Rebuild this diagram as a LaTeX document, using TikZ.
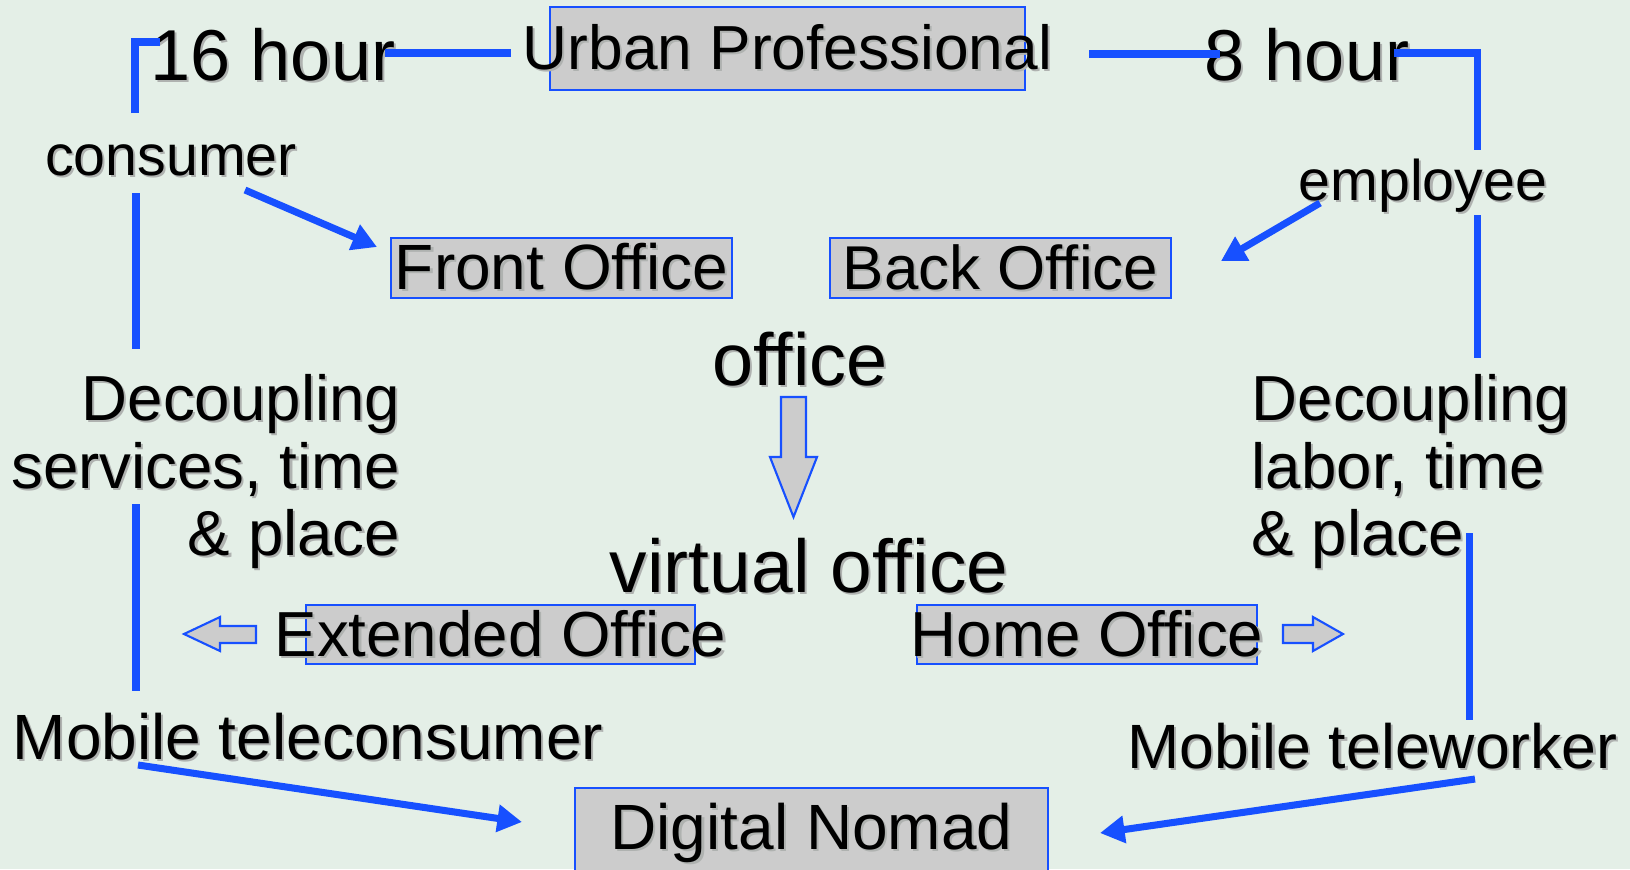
\documentclass[tikz,border=0pt]{standalone}
\usepackage{fontspec}
\setmainfont{Liberation Sans}
\usetikzlibrary{calc,arrows.meta}
\definecolor{lineblue}{RGB}{23,80,255}
\definecolor{boxgray}{RGB}{204,204,204}
\definecolor{bgmint}{RGB}{228,239,231}
\definecolor{shadowgray}{RGB}{175,178,176}
\newcommand{\shd}[1]{\rlap{\kern0.6pt\raisebox{-0.6pt}{\color{shadowgray}#1}}#1}
\tikzset{
  link/.style={draw=lineblue, line width=2pt, line join=miter},
  linkarrow/.style={link, -{Triangle[length=7pt,width=7.5pt]}},
  officebox/.style={draw=lineblue, fill=boxgray, line width=0.6pt, inner xsep=-20pt, inner ysep=0pt},
  hollow/.style={draw=lineblue, fill=boxgray, line width=0.6pt, line join=miter},
  lbl/.style={inner sep=0pt, anchor=base},
}

\begin{document}
\begin{tikzpicture}[x=0.01cm, y=-0.01cm]
    \path[use as bounding box, fill=bgmint] (0,0) rectangle (1630,869);
    \clip (0,0) rectangle (1630,869);
    % boxes
    \node[officebox, minimum width=4.75cm, minimum height=0.83cm, font=\fontsize{17.7}{19}\selectfont] (urban) at (787.5,48.5) {\shd{Urban Professional}};
    \node[officebox, minimum width=3.41cm, minimum height=0.60cm, font=\fontsize{18.2}{19}\selectfont] (front) at (561.5,268) {\shd{Front Office}};
    \node[officebox, minimum width=3.41cm, minimum height=0.60cm, font=\fontsize{17.6}{19}\selectfont] (back) at (1000.5,268) {\shd{Back Office}};
    \node[officebox, minimum width=3.89cm, minimum height=0.59cm, font=\fontsize{18.1}{19}\selectfont] (extended) at (500.5,634.5) {\shd{Extended Office}};
    \node[officebox, minimum width=3.40cm, minimum height=0.59cm, font=\fontsize{18.1}{19}\selectfont] (home) at (1087,634.5) {\shd{Home Office}};
    \node[officebox, minimum width=4.73cm, minimum height=0.91cm, font=\fontsize{18.2}{19}\selectfont] (nomad) at (811.5,833.5) {\shd{Digital Nomad}};
    % labels
    \node[lbl, font=\fontsize{20.5}{22}\selectfont] (hour16) at (273,80) {\shd{16 hour}};
    \node[lbl, font=\fontsize{20.5}{22}\selectfont] (hour8) at (1307,80) {\shd{8 hour}};
    \node[lbl, font=\fontsize{16.3}{18}\selectfont] (consumer) at (171,175) {\shd{consumer}};
    \node[lbl, font=\fontsize{16.3}{18}\selectfont] (employee) at (1423,200) {\shd{employee}};
    \node[lbl, font=\fontsize{21}{22}\selectfont] (office) at (800,385) {\shd{office}};
    \node[lbl, font=\fontsize{21.3}{23}\selectfont] (virtual) at (809,592) {\shd{virtual office}};
    \node[inner sep=0pt, anchor=north east, align=right, font=\fontsize{18.1}{19.2}\selectfont] (decservices) at (401,374) {\shd{Decoupling}\\\shd{services, time}\\\shd{\& place}};
    \node[inner sep=0pt, anchor=north west, align=left, font=\fontsize{18.1}{19.2}\selectfont] (declabor) at (1251,374) {\shd{Decoupling}\\\shd{labor, time}\\\shd{\& place}};
    \node[lbl, font=\fontsize{18.2}{20}\selectfont] (teleconsumer) at (308,759) {\shd{Mobile teleconsumer}};
    \node[lbl, font=\fontsize{17.8}{19}\selectfont] (teleworker) at (1372.5,768) {\shd{Mobile teleworker}};
    % line pieces
    \coordinate (ulA) at (135,113);
    \coordinate (ulB) at (160,42);
    \coordinate (hrA) at (385,53);
    \coordinate (hrB) at (511,53);
    \coordinate (urA) at (1089,54);
    \coordinate (urB) at (1220,54);
    \coordinate (urC) at (1394,53);
    \coordinate (urD) at (1477,150);
    \coordinate (rvA) at (1477,215);
    \coordinate (rvB) at (1477,358);
    \coordinate (rvC) at (1469,533);
    \coordinate (rvD) at (1469,720);
    \coordinate (lvA) at (136,193);
    \coordinate (lvB) at (136,349);
    \coordinate (lvC) at (136,504);
    \coordinate (lvD) at (136,691);
    \draw[link] (ulA) |- (ulB);
    \draw[link] (hrA) -- (hrB);
    \draw[link] (urA) -- (urB);
    \draw[link] (urC) -| (urD);
    \draw[link] (rvA) -- (rvB);
    \draw[link] (rvC) -- (rvD);
    \draw[link] (lvA) -- (lvB);
    \draw[link] (lvC) -- (lvD);
    % arrows
    \coordinate (csA) at (245,190);
    \coordinate (frT) at (377,247);
    \coordinate (emA) at (1320,203);
    \coordinate (bkT) at (1221,261);
    \coordinate (tcA) at (138,765);
    \coordinate (ndL) at (522,822);
    \coordinate (twA) at (1475,779);
    \coordinate (ndR) at (1100,833);
    \draw[linkarrow] (csA) -- (frT);
    \draw[linkarrow] (emA) -- (bkT);
    \draw[linkarrow] (tcA) -- (ndL);
    \draw[linkarrow] (twA) -- (ndR);
    % hollow arrows
    \draw[hollow] (781,397) -- (806,397) -- (806,457) -- (817,457) -- (793.5,517) -- (770,457) -- (781,457) -- cycle;
    \draw[hollow] (256,626) -- (220,626) -- (220,617) -- (184,634) -- (220,651) -- (220,643) -- (256,643) -- cycle;
    \draw[hollow] (1283,625) -- (1313,625) -- (1313,617) -- (1343,634) -- (1313,651) -- (1313,643) -- (1283,643) -- cycle;
\end{tikzpicture}
\end{document}
